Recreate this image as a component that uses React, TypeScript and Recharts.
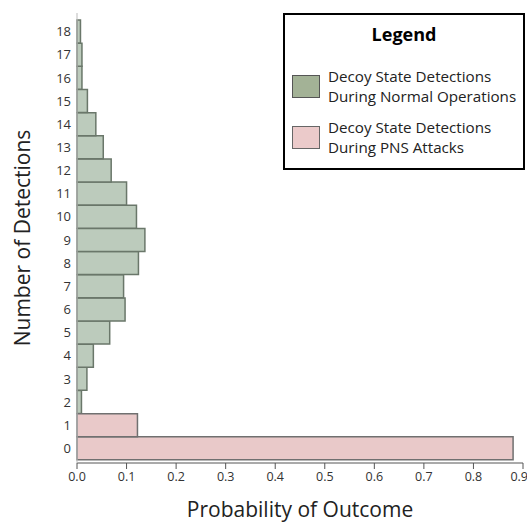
import { Bar, BarChart, XAxis, YAxis } from 'recharts';

const DETECTIONS = ['0', '1', '2', '3', '4', '5', '6', '7', '8', '9', '10', '11', '12', '13', '14', '15', '16', '17', '18'];
const NORMAL_OPS = [0, 0, 0.009, 0.02, 0.033, 0.066, 0.097, 0.094, 0.124, 0.137, 0.12, 0.1, 0.069, 0.053, 0.038, 0.021, 0.01, 0.01, 0.007];
const PNS_ATTACKS = [0.88, 0.122, 0, 0, 0, 0, 0, 0, 0, 0, 0, 0, 0, 0, 0, 0, 0, 0, 0];
const X_TICKS = [0, 0.1, 0.2, 0.3, 0.4, 0.5, 0.6, 0.7, 0.8, 0.9];

const FONT = '"Open Sans", "Noto Sans", sans-serif';

const chartData = DETECTIONS.map((n, i) => ({ n, normal: NORMAL_OPS[i], pns: PNS_ATTACKS[i] }));

function LegendBox() {
  const row = (top: number, fill: string, stroke: string, lines: string[]) => (
    <div style={{ position: 'absolute', left: 7, top, display: 'flex', alignItems: 'center' }}>
      <div style={{ width: 26, height: 21, background: fill, border: `1.5px solid ${stroke}`, marginRight: 8, flexShrink: 0 }} />
      <div style={{ fontSize: 15.2, lineHeight: '20px', color: '#222', whiteSpace: 'nowrap' }}>
        {lines.map((l) => (
          <div key={l}>{l}</div>
        ))}
      </div>
    </div>
  );
  return (
    <div
      style={{
        position: 'absolute',
        left: 283,
        top: 13,
        boxSizing: 'border-box',
        width: 242,
        height: 157,
        border: '2.5px solid #000',
        background: '#fff',
        fontFamily: FONT,
      }}
    >
      <div style={{ position: 'absolute', left: 0, right: 0, top: 6, textAlign: 'center', fontWeight: 700, fontSize: 18, lineHeight: '26px' }}>
        Legend
      </div>
      {row(51, '#a3b296', '#555', ['Decoy State Detections', 'During Normal Operations'])}
      {row(102, '#ebcaca', '#666', ['Decoy State Detections', 'During PNS Attacks'])}
    </div>
  );
}

export default function App() {
  return (
    <div style={{ position: 'absolute', left: 0, top: 0, width: 527, height: 525, background: '#fff' }}>
      <BarChart
        width={527}
        height={525}
        data={chartData}
        layout="vertical"
        barCategoryGap={0}
        margin={{ top: 13, right: 4, left: 0, bottom: 0 }}
        style={{ fontFamily: FONT }}
      >
        <XAxis
          type="number"
          domain={[0, 0.9]}
          ticks={X_TICKS}
          tickFormatter={(v: number) => v.toFixed(1)}
          height={62}
          tickSize={6}
          tickMargin={3}
          stroke="#555"
          tick={{ fill: '#333', fontSize: 12.5 }}
          label={{ value: 'Probability of Outcome', position: 'insideBottom', offset: 8, fontSize: 21, fill: '#222' }}
        />
        <XAxis
          xAxisId="top"
          type="number"
          domain={[0, 0.9]}
          orientation="top"
          height={0}
          tick={false}
          tickLine={false}
          axisLine={{ stroke: '#c8c8c8' }}
        />
        <YAxis
          type="category"
          dataKey="n"
          reversed
          width={77}
          tickLine={false}
          tickMargin={0}
          padding={{ top: 7, bottom: 3 }}
          axisLine={{ stroke: '#bbb' }}
          tick={{ fill: '#333', fontSize: 13 }}
          interval={0}
          label={{
            value: 'Number of Detections',
            angle: -90,
            position: 'insideLeft',
            offset: 23,
            fontSize: 21,
            fill: '#222',
            style: { textAnchor: 'middle' },
          }}
        />
        <Bar dataKey="normal" stackId="a" fill="#bccbbc" stroke="#6a776a" strokeWidth={1.5} isAnimationActive={false} />
        <Bar dataKey="pns" stackId="a" fill="#e9c9c9" stroke="#707070" strokeWidth={1.5} isAnimationActive={false} />
      </BarChart>
      <LegendBox />
    </div>
  );
}
